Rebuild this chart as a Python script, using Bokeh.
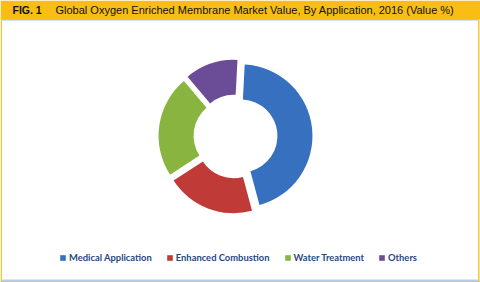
import math
from bokeh.plotting import figure
from bokeh.models import Range1d, ColumnDataSource, Legend, LegendItem
from bokeh.core.properties import value
from bokeh.embed import file_html
from bokeh.resources import INLINE

# ---- data ----
categories = ["Medical Application", "Enhanced Combustion", "Water Treatment", "Others"]
shares = [45, 20, 23, 12]
colors = ["#3670BE", "#C03A37", "#8AB440", "#6B4C96"]
fig_label = "FIG. 1"
title_text = "Global Oxygen Enriched Membrane Market Value, By Application, 2016 (Value %)"

W, H = 480, 282
p = figure(width=W, height=H, output_backend="svg", toolbar_location=None,
           x_range=Range1d(0, W), y_range=Range1d(0, H), min_border=0)
p.axis.visible = False
p.grid.visible = False
p.outline_line_color = None
p.background_fill_color = "white"
p.border_fill_color = "white"

# ---- frame: header band and borders ----
p.quad(left=0, right=W, top=H, bottom=H - 18.5, fill_color="#FABD14", line_color=None)
p.quad(left=1.5, right=W - 2.5, top=H - 18.5, bottom=H - 20, fill_color="#A9C4E8", line_color=None)
p.quad(left=0, right=1.5, top=H - 18.5, bottom=0, fill_color="#F9C83A", line_color=None)
p.quad(left=W - 2.5, right=W - 1, top=H - 18.5, bottom=0, fill_color="#F9C83A", line_color=None)
p.quad(left=1.5, right=W - 2.5, top=3, bottom=1.2, fill_color="#B7CDEA", line_color=None)
p.quad(left=0, right=W, top=1.2, bottom=0, fill_color="#D9B34A", line_color=None)

p.text(x=[12], y=[H - 9.5], text=[fig_label], text_font=value("Liberation Sans"),
       text_font_style="bold", text_font_size="10.5px", text_baseline="middle", text_color="#111111")
p.text(x=[55], y=[H - 9.5], text=[title_text], text_font=value("Liberation Sans"),
       text_font_size="11px", text_baseline="middle", text_color="#111111")

# ---- donut ----
cx, cy = 235, H - 136
r_out, r_in, explode = 71.5, 36.5, 5.5
first_angle = 3.0  # degrees clockwise from 12 o'clock
total = float(sum(shares))
starts, ends, xs, ys = [], [], [], []
acc = first_angle
for s in shares:
    a0 = acc
    a1 = acc + 360.0 * s / total
    mid = math.radians((a0 + a1) / 2)
    xs.append(cx + explode * math.sin(mid))
    ys.append(cy + explode * math.cos(mid))
    starts.append(math.radians(90 - a0))
    ends.append(math.radians(90 - a1))
    acc = a1
src = ColumnDataSource(dict(x=xs, y=ys, start=starts, end=ends, color=colors, cat=categories))
p.annular_wedge(x="x", y="y", inner_radius=r_in, outer_radius=r_out,
                start_angle="start", end_angle="end", direction="clock",
                fill_color="color", line_color=None, source=src)

# ---- legend (proxy squares) ----
nan = float("nan")
lsrc = ColumnDataSource(dict(l=[nan] * 4, r=[nan] * 4, t=[nan] * 4, b=[nan] * 4, color=colors))
proxy = p.quad(left="l", right="r", top="t", bottom="b", fill_color="color", line_color=None, source=lsrc)
items = [LegendItem(label=c, renderers=[proxy], index=i) for i, c in enumerate(categories)]
legend = Legend(items=items, orientation="horizontal", location=(59, 19),
                glyph_width=7, glyph_height=7, label_standoff=3, spacing=14,
                label_height=10, padding=0, margin=0,
                label_text_font="Lato", label_text_font_style="bold",
                label_text_font_size="9.4px", label_text_color="#1F497D",
                background_fill_alpha=0, border_line_color=None)
p.add_layout(legend, "center")

open("out.html", "w").write(file_html(p, INLINE))
